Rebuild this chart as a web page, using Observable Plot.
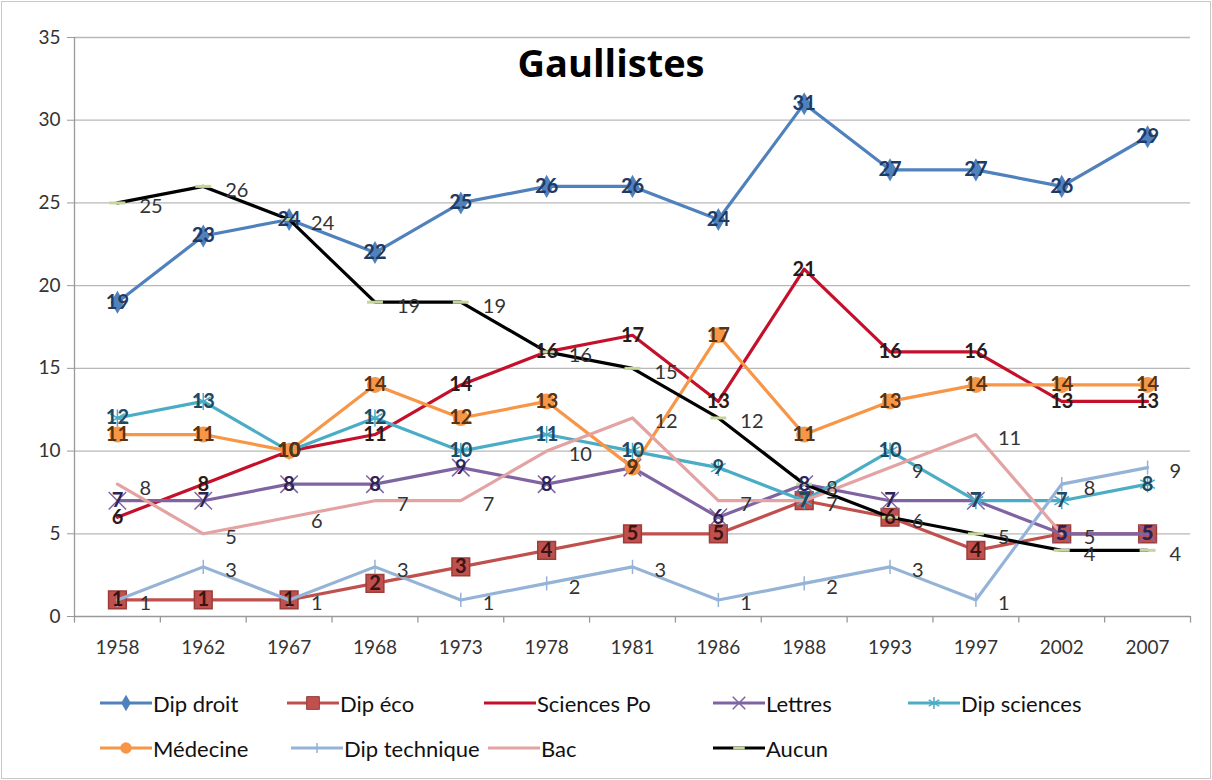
<!DOCTYPE html>
<html><head><meta charset="utf-8">
<script src="https://cdn.jsdelivr.net/npm/d3@7"></script>
<script src="https://cdn.jsdelivr.net/npm/@observablehq/plot@0.6"></script>
<style>
body{margin:0;background:#fff;}
#frame{position:relative;width:1208px;height:776px;border:1px solid #c8c8c8;margin:1px;font-family:Lato,"Open Sans",sans-serif;background:#fff;overflow:hidden}
#title{position:absolute;left:0;width:1218px;top:34px;text-align:center;font-weight:bold;font-size:38px;color:#000;font-family:"Open Sans",Lato,sans-serif}
#chart{position:absolute;left:0;top:0}
.leg{position:absolute;display:flex;align-items:center;font-size:22px;color:#111;white-space:nowrap}
.leg svg{margin-right:1px}
</style></head>
<body><div id="frame"><div id="chart"></div><div id="title">Gaullistes</div></div>
<script>
const years = ["1958","1962","1967","1968","1973","1978","1981","1986","1988","1993","1997","2002","2007"];
const seriesNames = ["Dip droit","Dip éco","Sciences Po","Lettres","Dip sciences","Médecine","Dip technique","Bac","Aucun"];
const dipDroit     = [19,23,24,22,25,26,26,24,31,27,27,26,29];
const dipEco       = [1,1,1,2,3,4,5,5,7,6,4,5,5];
const sciencesPo   = [6,8,10,11,14,16,17,13,21,16,16,13,13];
const lettres      = [7,7,8,8,9,8,9,6,8,7,7,5,5];
const dipSciences  = [12,13,10,12,10,11,10,9,7,10,7,7,8];
const medecine     = [11,11,10,14,12,13,9,17,11,13,14,14,14];
const dipTechnique = [1,3,1,3,1,2,3,1,2,3,1,8,9];
const bac          = [8,5,6,7,7,10,12,7,7,9,11,5,null];
const aucun        = [25,26,24,19,19,16,15,12,8,6,5,4,4];
const yTicks = [0,5,10,15,20,25,30,35];

const values = [dipDroit,dipEco,sciencesPo,lettres,dipSciences,medecine,dipTechnique,bac,aucun];
const colors = ["#4F81BD","#C0504D","#C4102A","#8064A2","#4BACC6","#F79646","#95B3D7","#E3A3A2","#000000"];
const table = [];
seriesNames.forEach((s,k)=>values[k].forEach((v,i)=>{ if(v!=null) table.push({s, i, v}); }));
const of = s => table.filter(d=>d.s===s);

const vbar = {draw(ctx,size){const r=Math.sqrt(size)/2; ctx.moveTo(0,-r); ctx.lineTo(0,r);}};
const hbar = {draw(ctx,size){const r=Math.sqrt(size)/2; ctx.moveTo(-r,0); ctx.lineTo(r,0);}};

const markers = {
  "Dip droit":    {symbol:"diamond", fill:"#4F81BD", r:7},
  "Dip éco":      {symbol:"square", fill:"#C0504D", stroke:"#9c3d3a", r:10},
  "Lettres":      {symbol:"times", stroke:"#8064A2", strokeWidth:1.5, r:8},
  "Dip sciences": {symbol:"asterisk", stroke:"#4BACC6", strokeWidth:1.5, r:8},
  "Médecine":     {symbol:"circle", fill:"#F79646", r:8},
  "Dip technique":{symbol:vbar, stroke:"#95B3D7", strokeWidth:1.5, r:8},
  "Aucun":        {symbol:hbar, stroke:"#C4D79B", strokeWidth:3, r:9}
};
const centerLabel = {
  "Dip droit":"#1F3A66","Dip éco":"#3a1412","Sciences Po":"#2a1a1a","Lettres":"#2c2456",
  "Dip sciences":"#1d4a63","Médecine":"#5a3310"
};
const rightLabel = ["Dip technique","Bac","Aucun"];

const marks = [
  Plot.gridY(yTicks.filter(t=>t>0), {stroke:"#b8b8b8", strokeOpacity:1, strokeWidth:1.3}),
  Plot.axisY(yTicks, {tickSize:7, stroke:"#999", tickPadding:7, fontSize:19, fill:"#333", label:null}),
  Plot.ruleX([-0.5], {y1:0, y2:35, stroke:"#999", strokeWidth:1.3}),
  Plot.ruleY([0], {stroke:"#999", strokeWidth:1.3}),
  Plot.ruleX(d3.range(14).map(i=>i-0.5), {y1:0, y2:-0.4, stroke:"#999", strokeWidth:1.3}),
  Plot.axisX(d3.range(years.length), {tickSize:0, tickPadding:24, tickFormat:i=>years[i], fontSize:19, fill:"#333", label:null})
];
seriesNames.forEach((s,k)=>{
  marks.push(Plot.line(of(s), {x:"i", y:"v", stroke:colors[k], strokeWidth:3.2, strokeLinejoin:"round"}));
  const m = markers[s];
  if (m) marks.push(Plot.dot(of(s), {x:"i", y:"v", ...m}));
});
seriesNames.forEach(s=>{
  if (centerLabel[s]) marks.push(Plot.text(of(s), {x:"i", y:"v", text:d=>String(d.v), fill:centerLabel[s], fontSize:20, fontWeight:"bold", fontFamily:"Lato"}));
  if (rightLabel.includes(s)) marks.push(Plot.text(of(s), {x:"i", y:"v", text:d=>String(d.v), fill:"#333", fontSize:20, textAnchor:"start", dx:22, dy:4, fontFamily:"Lato"}));
});

const chart = Plot.plot({
  width:1208, height:670,
  marginLeft:72, marginRight:20, marginTop:35, marginBottom:56,
  x:{domain:[-0.5,12.5], axis:null},
  y:{domain:[0,35], axis:null},
  style:{fontFamily:"Lato, 'Open Sans', sans-serif", background:"transparent"},
  marks
});
document.getElementById("chart").appendChild(chart);

// legend
const legendPos = [[98,701],[285,701],[482,701],[711,701],[906,701],[98,746],[289,746],[486,746],[711,746]];
const frame = document.getElementById("frame");
seriesNames.forEach((s,k)=>{
  const [lx,ly] = legendPos[k];
  const div = document.createElement("div");
  div.className = "leg";
  div.style.left = lx+"px"; div.style.top = (ly-14)+"px"; div.style.height="28px";
  const svg = d3.create("svg").attr("width",52).attr("height",28);
  svg.append("line").attr("x1",0).attr("x2",52).attr("y1",14).attr("y2",14).attr("stroke",colors[k]).attr("stroke-width",3.2);
  const m = markers[s];
  if (m) {
    const symMap = {diamond:d3.symbolDiamond, square:d3.symbolSquare, times:d3.symbolTimes, asterisk:d3.symbolAsterisk, circle:d3.symbolCircle};
    const type = typeof m.symbol === "string" ? symMap[m.symbol] : m.symbol;
    const rr = m.r*0.72;
    svg.append("path").attr("transform","translate(26,14)")
      .attr("d", d3.symbol(type, Math.PI*rr*rr)())
      .attr("fill", m.fill || "none").attr("stroke", m.stroke || "none").attr("stroke-width", m.strokeWidth || 1);
  }
  div.appendChild(svg.node());
  const span = document.createElement("span"); span.textContent = s; div.appendChild(span);
  frame.appendChild(div);
});
</script></body></html>
